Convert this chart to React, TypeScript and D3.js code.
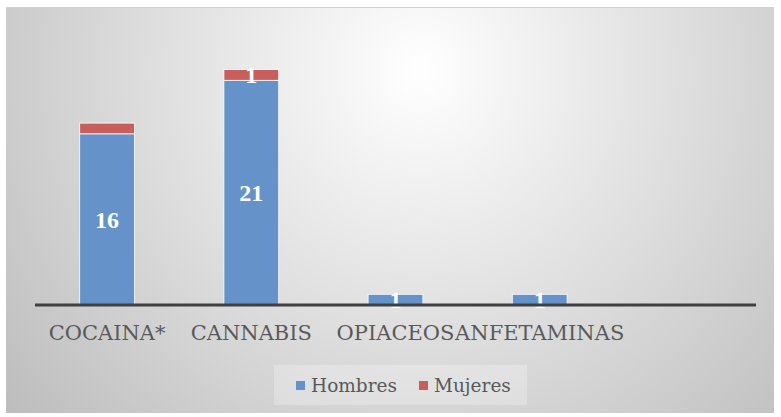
import { useEffect, useRef } from 'react';
import * as d3 from 'd3';

// categorías (la última queda vacía, como en el original)
const categories = ['COCAINA*', 'CANNABIS', 'OPIACEOS', 'ANFETAMINAS', ''];
const hombres = [16, 21, 1, 1, 0];
const mujeres = [1, 1, 0, 0, 0];
// etiquetas visibles de Mujeres
const mujeresLabel = [false, true, false, false, false];
const seriesNames = ['Hombres', 'Mujeres'];

export default function App() {
  const ref = useRef<SVGSVGElement | null>(null);

  useEffect(() => {
    if (!ref.current) return;
    const svg = d3.select(ref.current);
    svg.selectAll('*').remove();

    const colors = ['#6592c8', '#c95f5d'];
    const font = "'Liberation Serif', serif";
    const fontReg = "'DejaVu Serif', serif";

    // fondo con degradado radial
    const defs = svg.append('defs');
    const grad = defs.append('radialGradient')
      .attr('id', 'bg')
      .attr('gradientUnits', 'userSpaceOnUse')
      .attr('cx', 420).attr('cy', 70).attr('r', 560);
    grad.append('stop').attr('offset', 0).attr('stop-color', '#ffffff');
    grad.append('stop').attr('offset', 1).attr('stop-color', '#bababa');

    svg.append('rect')
      .attr('x', 6).attr('y', 7)
      .attr('width', 768).attr('height', 406)
      .attr('fill', 'url(#bg)');
    svg.append('line')
      .attr('x1', 6).attr('x2', 774).attr('y1', 7.5).attr('y2', 7.5)
      .attr('stroke', '#d0d0d0').attr('stroke-width', 1);

    const x = d3.scaleBand()
      .domain(categories.map((c, i) => String(i)))
      .range([35, 756])
      .paddingInner(0.62)
      .paddingOuter(0.31);

    const y = d3.scaleLinear().domain([0, 25]).range([305, 37.5]);

    const rows = categories.map((c, i) => ({ i, hombres: hombres[i], mujeres: mujeres[i] }));
    const stack = d3.stack<any>().keys(['hombres', 'mujeres'])(rows);

    const g = svg.append('g');
    stack.forEach((layer, li) => {
      g.selectAll(`.s${li}`)
        .data(layer.filter(d => d[1] - d[0] > 0))
        .enter()
        .append('rect')
        .attr('x', d => x(String(d.data.i))!)
        .attr('width', x.bandwidth())
        .attr('y', d => y(d[1]))
        .attr('height', d => y(d[0]) - y(d[1]))
        .attr('fill', colors[li])
        .attr('stroke', '#ffffff')
        .attr('stroke-width', 0.8);
    });

    // eje X
    svg.append('line')
      .attr('x1', 35).attr('x2', 756)
      .attr('y1', 305).attr('y2', 305)
      .attr('stroke', '#404040').attr('stroke-width', 3);

    // etiquetas de datos
    stack.forEach((layer, li) => {
      g.selectAll(`.l${li}`)
        .data(layer.filter(d => d[1] - d[0] > 0 && (li === 0 || mujeresLabel[d.data.i])))
        .enter()
        .append('text')
        .attr('x', d => x(String(d.data.i))! + x.bandwidth() / 2)
        .attr('y', d => (y(d[0]) + y(d[1])) / 2)
        .attr('dy', '0.35em')
        .attr('text-anchor', 'middle')
        .attr('fill', '#ffffff')
        .attr('font-family', font)
        .attr('font-weight', 'bold')
        .attr('font-size', 24)
        .text(d => String(d[1] - d[0]));
    });

    // etiquetas de categoría
    svg.selectAll('.cat')
      .data(categories)
      .enter()
      .append('text')
      .attr('x', (c, i) => x(String(i))! + x.bandwidth() / 2)
      .attr('y', 340)
      .attr('text-anchor', 'middle')
      .attr('fill', '#595959')
      .attr('font-family', fontReg)
      .attr('font-size', 21)
      .text(c => c);

    // leyenda
    svg.append('rect')
      .attr('x', 274).attr('y', 365)
      .attr('width', 253).attr('height', 40)
      .attr('fill', '#ffffff').attr('fill-opacity', 0.25);
    const legX = [296, 419];
    seriesNames.forEach((name, i) => {
      svg.append('rect')
        .attr('x', legX[i]).attr('y', 381)
        .attr('width', 9).attr('height', 9)
        .attr('fill', colors[i]);
      svg.append('text')
        .attr('x', legX[i] + 15).attr('y', 392)
        .attr('fill', '#595959')
        .attr('font-family', fontReg)
        .attr('font-size', 18.5)
        .text(name);
    });
  }, []);

  return (
    <svg
      ref={ref}
      width={781}
      height={417}
      style={{ position: 'absolute', left: 0, top: 0, background: '#ffffff' }}
    />
  );
}
